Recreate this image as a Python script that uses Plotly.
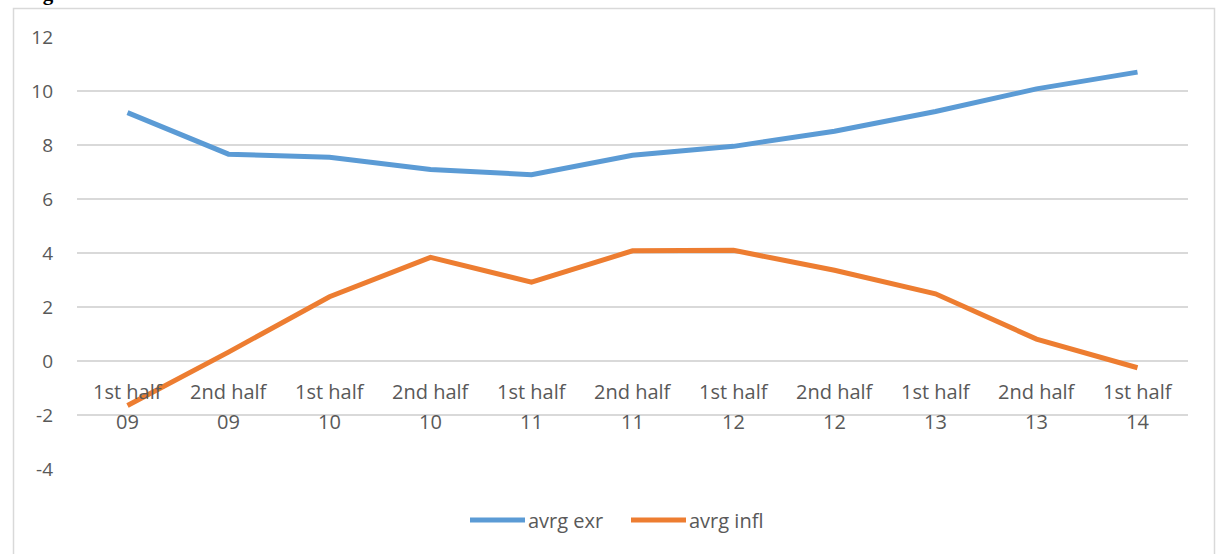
import plotly.graph_objects as go

# Half-year periods and the two averaged series
periods = ["1st half 09", "2nd half 09", "1st half 10", "2nd half 10", "1st half 11",
           "2nd half 11", "1st half 12", "2nd half 12", "1st half 13", "2nd half 13",
           "1st half 14"]
avrg_exr = [9.20, 7.66, 7.55, 7.09, 6.90, 7.62, 7.95, 8.51, 9.24, 10.08, 10.70]
avrg_infl = [-1.65, 0.33, 2.38, 3.84, 2.92, 4.08, 4.10, 3.36, 2.49, 0.81, -0.25]
series_names = ["avrg exr", "avrg infl"]
y_ticks = [-4, -2, 0, 2, 4, 6, 8, 10, 12]
y_tick_labels = ["-4", "-2", "0", "2", "4", "6", "8", "10", "12"]

BLUE = "#5B9BD5"
ORANGE = "#ED7D31"
GRID = "#D9D9D9"
TEXT = "#595959"
FONT = "Open Sans"

W, H = 1216, 554
L, R, T, B = 77, 28, 37, 85
PW, PH = W - L - R, H - T - B


def px_x(px):
    return (px - L) / PW


def px_y(py):
    return (H - B - py) / PH


fig = go.Figure()
for name, vals, col in [(series_names[0], avrg_exr, BLUE), (series_names[1], avrg_infl, ORANGE)]:
    fig.add_trace(go.Scatter(
        x=list(range(len(periods))), y=vals, mode="lines", name=name,
        line=dict(color=col, width=5), showlegend=False,
    ))

# Category labels sit just under the zero line, wrapped onto two rows
annotations = []
for i, p in enumerate(periods):
    top, bottom = p.rsplit(" ", 1)
    annotations.append(dict(x=i, y=0, xref="x", yref="y", text=top, showarrow=False,
                            yanchor="middle", yshift=-30,
                            font=dict(family=FONT, size=20, color=TEXT)))
    annotations.append(dict(x=i, y=0, xref="x", yref="y", text=bottom, showarrow=False,
                            yanchor="middle", yshift=-60,
                            font=dict(family=FONT, size=20, color=TEXT)))

# Legend drawn by hand: long thick line samples followed by the names
shapes = []
legend_items = [(series_names[0], BLUE, 470, 525), (series_names[1], ORANGE, 631, 686)]
for name, col, x0, x1 in legend_items:
    shapes.append(dict(type="line", xref="paper", yref="paper",
                       x0=px_x(x0), x1=px_x(x1), y0=px_y(520), y1=px_y(520),
                       line=dict(color=col, width=5)))
    annotations.append(dict(x=px_x(x1 + 1), y=px_y(520), xref="paper", yref="paper",
                            text=name, showarrow=False, xanchor="left", yanchor="middle",
                            font=dict(family=FONT, size=20, color=TEXT)))

# Outer chart frame
shapes.append(dict(type="rect", xref="paper", yref="paper",
                   x0=px_x(13.5), x1=px_x(1214.5), y0=px_y(600), y1=px_y(8.5),
                   line=dict(color=GRID, width=1.5), fillcolor="rgba(0,0,0,0)", layer="below"))

# Caption text above the frame
annotations.append(dict(x=px_x(22), y=px_y(7), xref="paper", yref="paper",
                        text="<b>Figure</b>", showarrow=False, xanchor="left", yanchor="bottom",
                        font=dict(family="Liberation Serif", size=21, color="#000000")))

fig.update_layout(
    width=W, height=H,
    margin=dict(l=L, r=R, t=T, b=B, pad=0),
    paper_bgcolor="white", plot_bgcolor="white",
    showlegend=False,
    xaxis=dict(range=[-0.5, len(periods) - 0.5], showgrid=False, zeroline=False,
               showticklabels=False, showline=False, fixedrange=True),
    yaxis=dict(range=[-4, 12], tickvals=y_ticks, ticktext=y_tick_labels,
               showgrid=True, gridcolor=GRID, gridwidth=1.5,
               zeroline=True, zerolinecolor=GRID, zerolinewidth=1.5, showline=False,
               ticks="", ticklabelstandoff=23,
               tickfont=dict(family=FONT, size=19, color=TEXT)),
    annotations=annotations,
    shapes=shapes,
)

fig.write_html("out.html")
